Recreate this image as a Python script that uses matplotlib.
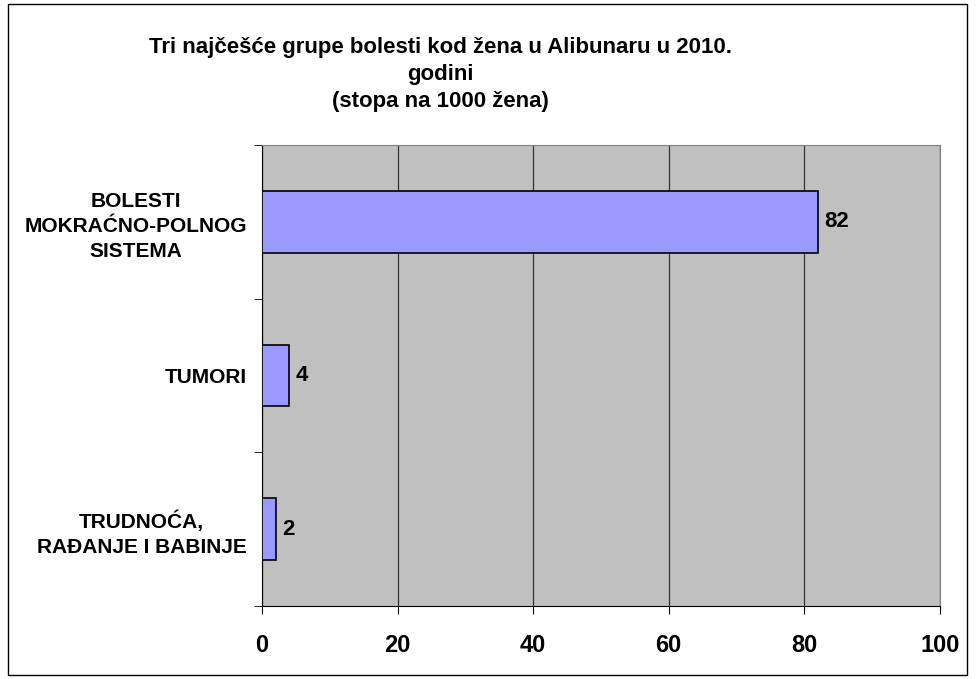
import matplotlib.pyplot as plt
import numpy as np
from matplotlib.patches import Rectangle

plt.rcParams['font.family'] = ['Liberation Sans', 'DejaVu Sans']

categories = ["BOLESTI\nMOKRAĆNO-POLNOG\nSISTEMA", "TUMORI", "TRUDNOĆA,\nRAĐANJE I BABINJE"]
values = [82, 4, 2]
xticks = [0, 20, 40, 60, 80, 100]

fig = plt.figure(figsize=(9.76, 6.79), dpi=100)
ax = fig.add_axes([0.2684, 0.1075, 0.6946, 0.679])

pos = np.arange(len(categories))
ax.set_facecolor("#c0c0c0")
ax.barh(pos, values, height=0.4, color="#9999ff", edgecolor="black", linewidth=1.2, zorder=3)
for p, v in zip(pos, values):
    ax.text(v + 1, p, str(v), va="center", ha="left", fontsize=16, fontweight="bold", zorder=4)

ax.set_xlim(0, 100)
ax.set_ylim(2.5, -0.5)
ax.set_xticks(xticks)
ax.set_xticklabels([str(t) for t in xticks], fontsize=17, fontweight="bold")
ax.set_yticks(pos)
ax.set_yticklabels(categories, fontsize=15, fontweight="bold", ha="right",
                   multialignment="center", linespacing=1.4)
ax.tick_params(axis="y", length=0, pad=11)
ax.set_yticks([-0.5, 0.5, 1.5, 2.5], minor=True)
ax.tick_params(axis="y", which="minor", length=6, direction="out")
ax.tick_params(axis="x", length=6, direction="out", pad=14)
ax.grid(axis="x", color="#333333", linewidth=0.9, zorder=1)

for s in ["top", "right"]:
    ax.spines[s].set_color("#808080")
for s in ["left", "bottom"]:
    ax.spines[s].set_color("black")

fig.text(0.451, 0.945, "Tri najčešće grupe bolesti kod žena u Alibunaru u 2010.\ngodini\n(stopa na 1000 žena)",
         ha="center", va="top", fontsize=16, fontweight="bold", linespacing=1.35)

fig.patches.append(Rectangle((0.008, 0.006), 0.983, 0.988, transform=fig.transFigure,
                             fill=False, edgecolor="black", linewidth=1))

fig.savefig("out.png", dpi=100)
